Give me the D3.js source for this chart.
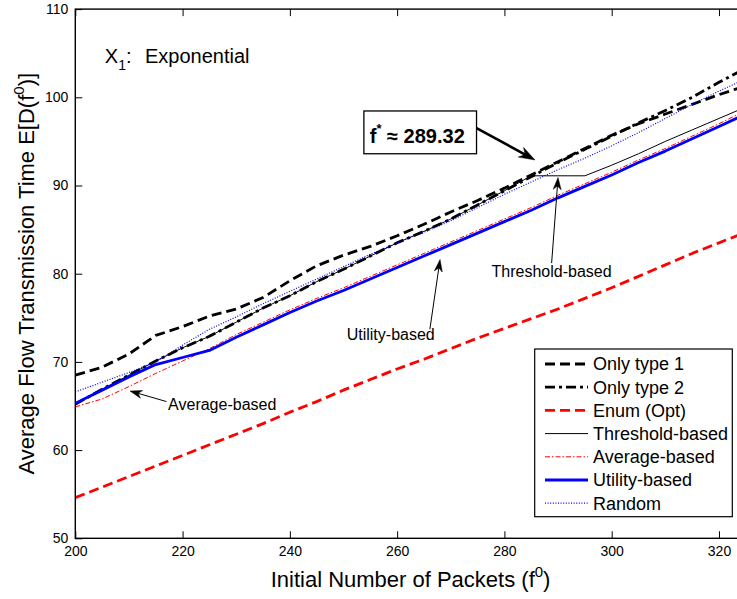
<!DOCTYPE html>
<html><head><meta charset="utf-8">
<script src="https://cdn.jsdelivr.net/npm/d3@7"></script>
<style>
body{margin:0;background:#fff;}
text{font-family:"Liberation Sans",Arial,Helvetica,sans-serif;fill:#000;}
</style></head><body>
<svg id="chart" width="737" height="599"></svg>
<script>
// ---------------- data ----------------
const xValues    = [200,205,210,215,220,225,230,235,240,245,250,255,260,265,270,275,280,285,290,295,300,305,310,315,320,325];
const onlyType1  = [68.5,69.4,70.9,73.0,74.0,75.2,76.0,77.3,79.2,80.9,82.1,83.1,84.3,85.6,87.0,88.3,89.7,91.2,92.7,94.2,95.7,97.0,98.1,99.2,100.3,101.3];
const onlyType2  = [65.2,66.9,68.5,70.1,71.6,72.9,74.5,76.1,77.5,79.1,80.5,82.0,83.5,84.8,86.2,87.8,89.4,91.0,92.6,94.1,95.6,97.1,98.5,100.0,101.7,103.3];
const enumOpt    = [54.6,55.8,57.0,58.2,59.4,60.6,61.8,63.0,64.3,65.5,66.8,68.0,69.2,70.3,71.5,72.7,73.8,74.9,76.0,77.2,78.4,79.7,81.0,82.3,83.5,84.7];
const threshold  = [65.2,66.9,68.5,70.1,71.6,72.9,74.5,76.1,77.5,79.1,80.5,82.0,83.5,84.8,86.2,87.8,89.4,91.1,91.1,91.1,92.3,93.6,95.0,96.3,97.6,98.9];
const average    = [64.9,65.8,67.2,68.7,70.1,71.5,73.1,74.5,75.9,77.2,78.4,79.7,81.0,82.3,83.6,84.9,86.2,87.5,88.9,90.2,91.5,92.9,94.2,95.6,97.0,98.5];
const utility    = [65.3,66.8,68.3,69.7,70.5,71.3,72.8,74.2,75.6,76.9,78.1,79.4,80.7,82.0,83.3,84.6,85.9,87.2,88.6,89.9,91.2,92.6,93.9,95.3,96.7,98.1];
const randomSel  = [66.6,67.7,68.8,70.0,71.9,73.7,75.1,76.6,78.0,79.4,80.8,82.2,83.5,84.7,86.0,87.5,89.0,90.4,91.8,93.1,94.5,96.0,97.6,99.2,100.7,102.1];

const seriesNames = ["Only type 1","Only type 2","Enum (Opt)","Threshold-based","Average-based","Utility-based","Random"];
const xTicks = [200,220,240,260,280,300,320];
const yTicks = [50,60,70,80,90,100,110];

// ---------------- setup ----------------
const svg = d3.select("#chart");
const x = d3.scaleLinear().domain([200,325]).range([75.3,745.8]);
const y = d3.scaleLinear().domain([50,110]).range([538.3,9.1]);

const styles = [
  {color:"#000", width:2.8, dash:"10,5"},
  {color:"#000", width:2.8, dash:"10,4,3,4"},
  {color:"#ff0000", width:2.8, dash:"10,5"},
  {color:"#000", width:1, dash:null},
  {color:"#ff0000", width:1, dash:"5,2,1.5,2"},
  {color:"#0000ff", width:2.8, dash:null},
  {color:"#0000ff", width:1.2, dash:"1,1.6"}
];
const seriesData = [onlyType1,onlyType2,enumOpt,threshold,average,utility,randomSel];

svg.append("defs").append("clipPath").attr("id","plotclip")
  .append("rect").attr("x",x(200)).attr("y",y(110))
  .attr("width",x(325)-x(200)).attr("height",y(50)-y(110));

// axes
const fs = 14;
const gB = svg.append("g").attr("transform",`translate(0,${y(50)})`)
  .call(d3.axisBottom(x).tickValues(xTicks).tickSizeInner(-7).tickSizeOuter(0).tickPadding(8));
const gT = svg.append("g").attr("transform",`translate(0,${y(110)})`)
  .call(d3.axisTop(x).tickValues(xTicks).tickSizeInner(-7).tickSizeOuter(0).tickFormat(""));
const gL = svg.append("g").attr("transform",`translate(${x(200)},0)`)
  .call(d3.axisLeft(y).tickValues(yTicks).tickSizeInner(-7).tickSizeOuter(0).tickPadding(7));
[gB,gT,gL].forEach(g=>{
  g.select(".domain").remove();
  g.selectAll("line").attr("stroke","#000").attr("stroke-width",1);
  g.selectAll("text").attr("font-size",fs).attr("font-family","Liberation Sans, Arial, sans-serif").attr("fill","#000");
});

// lines
const line = d3.line().x((d,i)=>x(xValues[i])).y(d=>y(d));
const plot = svg.append("g").attr("clip-path","url(#plotclip)");
seriesData.forEach((s,k)=>{
  plot.append("path").datum(s).attr("d",line)
    .attr("fill","none").attr("stroke",styles[k].color)
    .attr("stroke-width",styles[k].width)
    .attr("stroke-dasharray",styles[k].dash)
    .attr("stroke-linejoin","round");
});

// frame
svg.append("rect").attr("x",x(200)).attr("y",y(110))
  .attr("width",x(325)-x(200)).attr("height",y(50)-y(110))
  .attr("fill","none").attr("stroke","#000").attr("stroke-width",1.4);

// axis titles
const cx = (x(200)+x(325))/2, cy = (y(50)+y(110))/2;
const xt = svg.append("text").attr("x",cx).attr("y",587).attr("text-anchor","middle").attr("font-size",22);
xt.append("tspan").text("Initial Number of Packets (f");
xt.append("tspan").attr("font-size",15).attr("dy",-10).text("0");
xt.append("tspan").attr("dy",10).text(")");

const yt = svg.append("text").attr("transform",`translate(34,${cy}) rotate(-90)`).attr("text-anchor","middle").attr("font-size",22);
yt.append("tspan").text("Average Flow Transmission Time E[D(f");
yt.append("tspan").attr("font-size",15).attr("dy",-10).text("0");
yt.append("tspan").attr("dy",10).text(")]");

// X1 label
const xl = svg.append("text").attr("x",x(205.5)).attr("y",y(103.9)).attr("font-size",20);
xl.append("tspan").text("X");
xl.append("tspan").attr("font-size",14).attr("dy",7).text("1");
xl.append("tspan").attr("dy",-7).text(":");
svg.append("text").attr("x",x(213)).attr("y",y(103.9)).attr("font-size",20).text("Exponential");

// arrow helper
function arrow(x1,y1,x2,y2,lw,hl,hw){
  const ang = Math.atan2(y2-y1,x2-x1);
  const ux=Math.cos(ang), uy=Math.sin(ang), px=-uy, py=ux;
  const bx = x2-ux*hl, by = y2-uy*hl;
  const nx = x2-ux*hl*0.7, ny = y2-uy*hl*0.7;
  svg.append("line").attr("x1",x1).attr("y1",y1).attr("x2",nx).attr("y2",ny)
    .attr("stroke","#000").attr("stroke-width",lw);
  svg.append("path").attr("d",`M${x2},${y2}L${bx+px*hw/2},${by+py*hw/2}L${nx},${ny}L${bx-px*hw/2},${by-py*hw/2}Z`)
    .attr("fill","#000").attr("stroke","#000").attr("stroke-width",0.5);
}

// f* box
svg.append("rect").attr("x",x(253.8)).attr("y",y(98.45))
  .attr("width",x(274.8)-x(253.8)).attr("height",y(93.6)-y(98.45))
  .attr("fill","#fff").attr("stroke","#000").attr("stroke-width",1.3);
const fb = svg.append("text").attr("x",x(254.9)).attr("y",y(94.85)).attr("font-size",20).attr("font-weight","bold");
fb.append("tspan").text("f");
fb.append("tspan").attr("font-size",13).attr("dy",-10).text("*");
fb.append("tspan").attr("dy",10).text(" ≈ 289.32");
arrow(x(274.8),y(96.5),x(285.7),y(92.9),2.6,16,11);

// Threshold-based annotation
svg.append("text").attr("x",x(277.6)).attr("y",y(79.6)).attr("font-size",16).text("Threshold-based");
arrow(x(288.8),y(81.2),x(290.0),y(90.9),1,12,8);

// Utility-based annotation
svg.append("text").attr("x",x(250.6)).attr("y",y(72.5)).attr("font-size",16).text("Utility-based");
arrow(x(266.1),y(73.7),x(268.0),y(81.6),1,12,8);

// Average-based annotation
svg.append("text").attr("x",x(217.3)).attr("y",y(64.6)).attr("font-size",16).text("Average-based");
arrow(x(217.0),y(65.5),x(210.2),y(66.7),1,12,8);

// legend
const lg = svg.append("g");
lg.append("rect").attr("x",534.7).attr("y",349).attr("width",197.6).attr("height",167.7)
  .attr("fill","#fff").attr("stroke","#000").attr("stroke-width",1.2);
seriesNames.forEach((n,k)=>{
  const ly = 364 + k*23.2;
  lg.append("line").attr("x1",545).attr("x2",588).attr("y1",ly).attr("y2",ly)
    .attr("stroke",styles[k].color).attr("stroke-width",styles[k].width)
    .attr("stroke-dasharray",styles[k].dash);
  lg.append("text").attr("x",593).attr("y",ly).attr("dy","0.35em").attr("font-size",18).text(n);
});
</script>
</body></html>
